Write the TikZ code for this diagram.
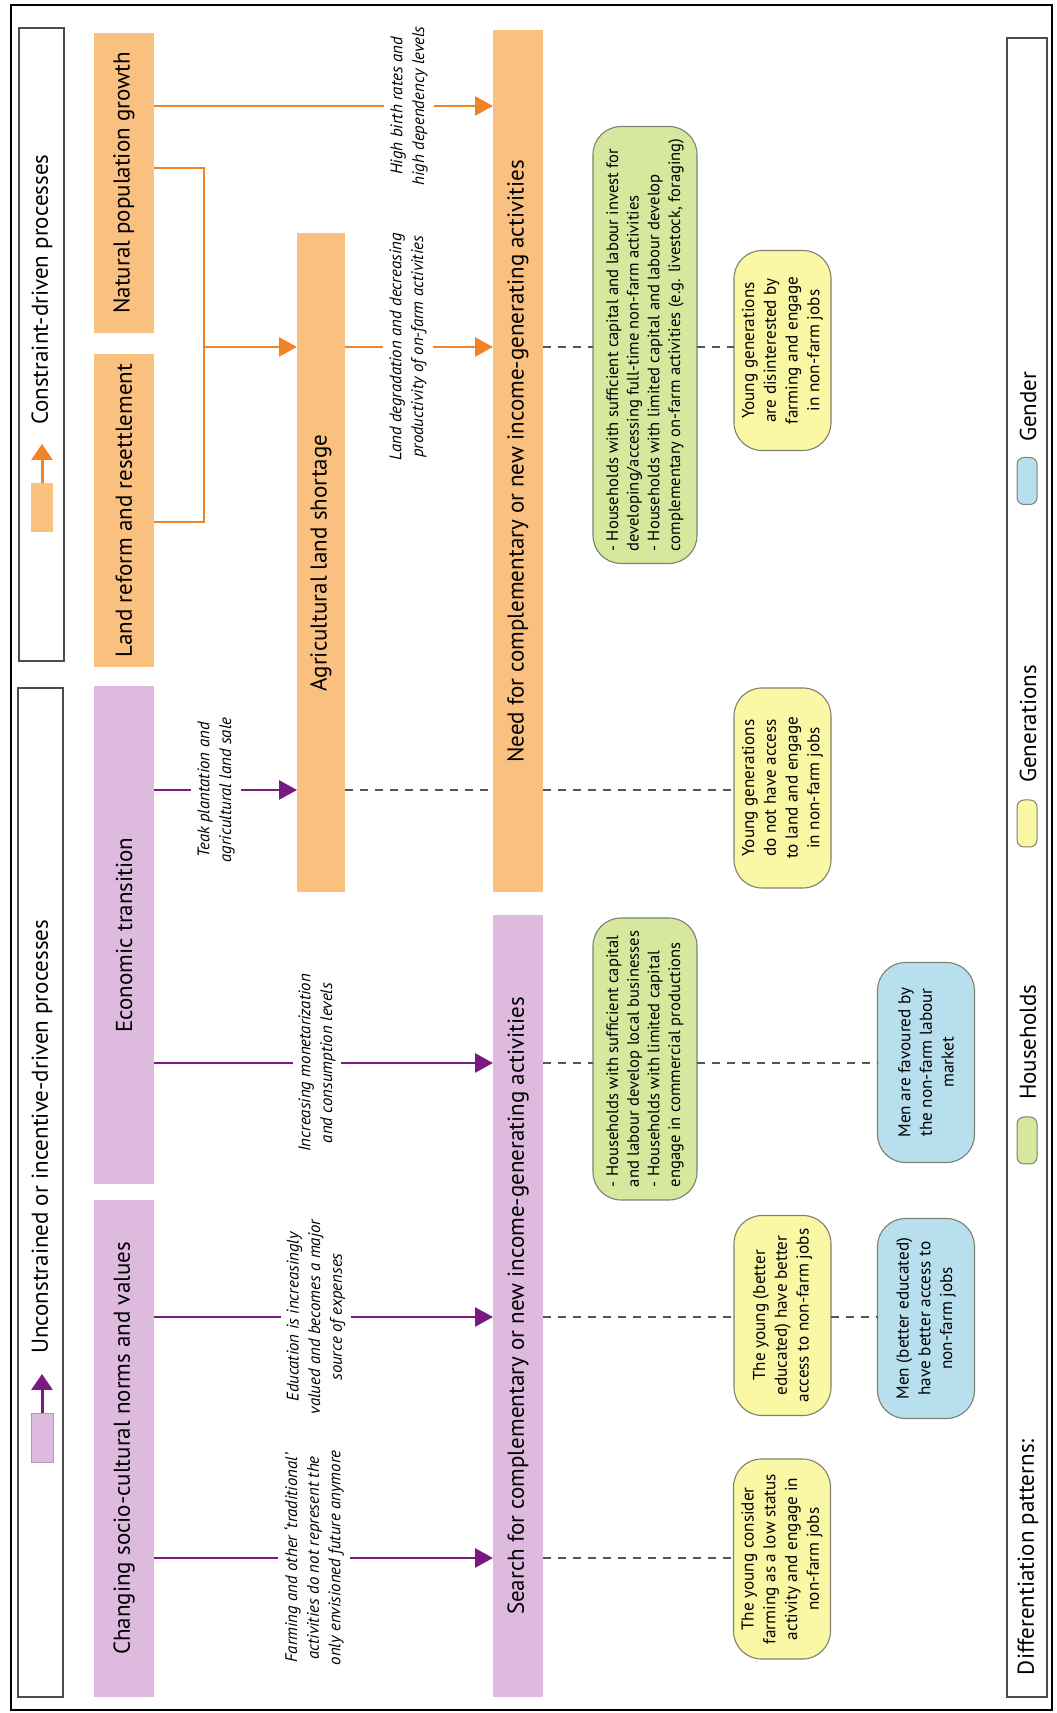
\documentclass[tikz,border=0pt]{standalone}
\usepackage{fontspec}
\setmainfont{PT Sans}
\usetikzlibrary{arrows.meta}
\definecolor{orfill}{RGB}{250,192,128}
\definecolor{orcol}{RGB}{240,130,40}
\definecolor{pufill}{RGB}{222,186,222}
\definecolor{pucol}{RGB}{120,26,128}
\definecolor{grfill}{RGB}{214,231,158}
\definecolor{yefill}{RGB}{250,247,165}
\definecolor{blfill}{RGB}{184,223,237}
\definecolor{bxline}{RGB}{128,128,110}
\definecolor{dashc}{RGB}{85,85,85}
\tikzset{
  base/.style={rotate=90, inner sep=0pt, outer sep=0pt},
  bigfont/.style={font=\fontsize{23}{27}\selectfont},
  titlebox/.style={base, rectangle, bigfont, align=center},
  orbox/.style={titlebox, fill=orfill},
  pubox/.style={titlebox, fill=pufill},
  hdrbox/.style={base, rectangle, draw=black!70, line width=1.5pt, fill=white},
  rbox/.style={base, rectangle, rounded corners=28pt, draw=bxline, line width=1.1pt,
    font=\fontsize{17.2}{21.7}\selectfont, minimum width=200pt, minimum height=97pt},
  ybox/.style={rbox, fill=yefill, align=center},
  bbox/.style={rbox, fill=blfill, align=center},
  gbox/.style={rbox, fill=grfill, align=left, font=\fontsize{16.6}{20.7}\selectfont, minimum height=104pt},
  swatch/.style={base, rectangle, rounded corners=7pt, draw=bxline, line width=1pt, minimum width=47pt, minimum height=20pt},
  lab/.style={base, font=\fontsize{16.8}{21.7}\selectfont\itshape, align=center, inner ysep=6pt},
  legtext/.style={base, bigfont, anchor=west},
  orconn/.style={draw=orcol, line width=2.8pt},
  orarr/.style={orconn, -{Triangle[length=18pt,width=19pt]}},
  puconn/.style={draw=pucol, line width=2.8pt},
  puarr/.style={puconn, -{Triangle[length=18pt,width=19pt]}},
  dashconn/.style={draw=dashc, line width=1.5pt, dash pattern=on 8pt off 7pt},
}
\begin{document}
\begin{tikzpicture}[x=1pt,y=1pt]
\useasboundingbox (0,0) rectangle (1057,1713);
\draw[line width=2.5pt] (11,3) rectangle (1052,1708);

% header boxes
\node[hdrbox, minimum width=1009pt, minimum height=45pt] (hdrL) at (40.5,520.5) {};
\node[hdrbox, minimum width=633pt, minimum height=45pt] (hdrR) at (41.5,1368.5) {};
\node[base, fill=pufill, draw=pufill!80!black, line width=0.6pt, minimum width=49pt, minimum height=22pt] (lgP) at (42,275.5) {};
\coordinate (lgPt) at (42,339);
\draw[draw=pucol, line width=3pt, -{Triangle[length=16pt,width=21pt]}] (lgP.east) -- (lgPt);
\node[legtext] (hdrLt) at (42,359) {Unconstrained or incentive-driven processes};
\node[base, fill=orfill, minimum width=49pt, minimum height=22pt] (lgO) at (42,1205.5) {};
\coordinate (lgOt) at (42,1269);
\draw[draw=orcol, line width=3pt, -{Triangle[length=16pt,width=21pt]}] (lgO.east) -- (lgOt);
\node[legtext] (hdrRt) at (42,1288) {Constraint-driven processes};

% title boxes
\node[orbox, minimum width=300pt, minimum height=60pt] (nat) at (124,1530) {Natural population growth};
\node[orbox, minimum width=313pt, minimum height=60pt] (land) at (124,1202.5) {Land reform and resettlement};
\node[pubox, minimum width=498pt, minimum height=60pt] (econ) at (124,778) {Economic transition};
\node[pubox, minimum width=497pt, minimum height=60pt] (socio) at (124,264.5) {Changing socio-cultural norms and values};
\node[orbox, minimum width=659pt, minimum height=48pt] (agri) at (321,1150) {Agricultural land shortage};
\node[orbox, minimum width=862pt, minimum height=50pt] (need) at (518,1251.5) {Need for complementary or new income-generating activities};
\node[pubox, minimum width=782pt, minimum height=50pt] (search) at (518,407) {Search for complementary or new income-generating activities};

% rounded boxes
\node[gbox, minimum width=437pt] (g1) at (645,1368) {- Households with sufficient capital and labour invest for\\developing/accessing full-time non-farm activities\\- Households with limited capital and labour develop\\complementary on-farm activities (e.g. livestock, foraging)};
\node[ybox] (y1) at (782.5,1362.5) {Young generations\\are disinterested by\\farming and engage\\in non-farm jobs};
\node[ybox] (y2) at (782.5,925) {Young generations\\do not have access\\to land and engage\\in non-farm jobs};
\node[gbox, minimum width=282pt] (g2) at (645,654) {- Households with sufficient capital\\and labour develop local businesses\\- Households with limited capital\\engage in commercial productions};
\node[bbox] (b1) at (926,650.5) {Men are favoured by\\the non-farm labour\\market};
\node[ybox] (y3) at (782.5,397.5) {The young (better\\educated) have better\\access to non-farm jobs};
\node[bbox] (b2) at (926,394.5) {Men (better educated)\\have better access to\\non-farm jobs};
\node[ybox] (y4) at (782,154) {The young consider\\farming as a low status\\activity and engage in\\non-farm jobs};

% labels
\node[lab] (lbA) at (409,1607) {High birth rates and\\high dependency levels};
\node[lab] (lbB) at (408,1366) {Land degradation and decreasing\\productivity of on-farm activities};
\node[lab] (lbC) at (216,923) {Teak plantation and\\agricultural land sale};
\node[lab] (lbD) at (317,650) {Increasing monetarization\\and consumption levels};
\node[lab] (lbE) at (316,396) {Education is increasingly\\valued and becomes a major\\source of expenses};
\node[lab] (lbF) at (314,155) {Farming and other `traditional'\\activities do not represent the\\only envisioned future anymore};

% levels
\coordinate (rA) at (0,1607);
\coordinate (rB1) at (0,1545);
\coordinate (rB2) at (0,1191);
\coordinate (rAg) at (0,1366);
\coordinate (rT) at (0,923);
\coordinate (rM) at (0,650);
\coordinate (rE) at (0,396);
\coordinate (rF) at (0,155);
\coordinate (jB) at (204,1191);

% orange connectors
\draw[orconn] (nat.south |- rA) -- (lbA.north |- rA);
\draw[orarr] (lbA.south |- rA) -- (need.north |- rA);
\draw[orconn] (nat.south |- rB1) -| (jB) -- (land.south |- rB2);
\draw[orarr] (jB |- rAg) -- (agri.north |- rAg);
\draw[orconn] (agri.south |- rAg) -- (lbB.north |- rAg);
\draw[orarr] (lbB.south |- rAg) -- (need.north |- rAg);
\draw[dashconn] (need.south |- rAg) -- (g1.north |- rAg);
\draw[dashconn] (g1.south |- rAg) -- (y1.north |- rAg);

% purple connectors
\draw[puconn] (econ.south |- rT) -- (lbC.north |- rT);
\draw[puarr] (lbC.south |- rT) -- (agri.north |- rT);
\draw[dashconn] (agri.south |- rT) -- (need.north |- rT);
\draw[dashconn] (need.south |- rT) -- (y2.north |- rT);

\draw[puconn] (econ.south |- rM) -- (lbD.north |- rM);
\draw[puarr] (lbD.south |- rM) -- (search.north |- rM);
\draw[dashconn] (search.south |- rM) -- (g2.north |- rM);
\draw[dashconn] (g2.south |- rM) -- (b1.north |- rM);

\draw[puconn] (socio.south |- rE) -- (lbE.north |- rE);
\draw[puarr] (lbE.south |- rE) -- (search.north |- rE);
\draw[dashconn] (search.south |- rE) -- (y3.north |- rE);
\draw[dashconn] (y3.south |- rE) -- (b2.north |- rE);

\draw[puconn] (socio.south |- rF) -- (lbF.north |- rF);
\draw[puarr] (lbF.south |- rF) -- (search.north |- rF);
\draw[dashconn] (search.south |- rF) -- (y4.north |- rF);

% legend strip
\node[hdrbox, minimum width=1659pt, minimum height=40pt] (lgbox) at (1027,845.5) {};
\node[legtext] (dp) at (1028,38) {Differentiation patterns:};
\node[swatch, fill=grfill] (swG) at (1027,572.5) {};
\node[legtext] (tH) at (1028,613) {Households};
\node[swatch, fill=yefill] (swY) at (1027,889.5) {};
\node[legtext] (tY) at (1028,930) {Generations};
\node[swatch, fill=blfill] (swB) at (1027,1232) {};
\node[legtext] (tB) at (1028,1271) {Gender};
\end{tikzpicture}
\end{document}
